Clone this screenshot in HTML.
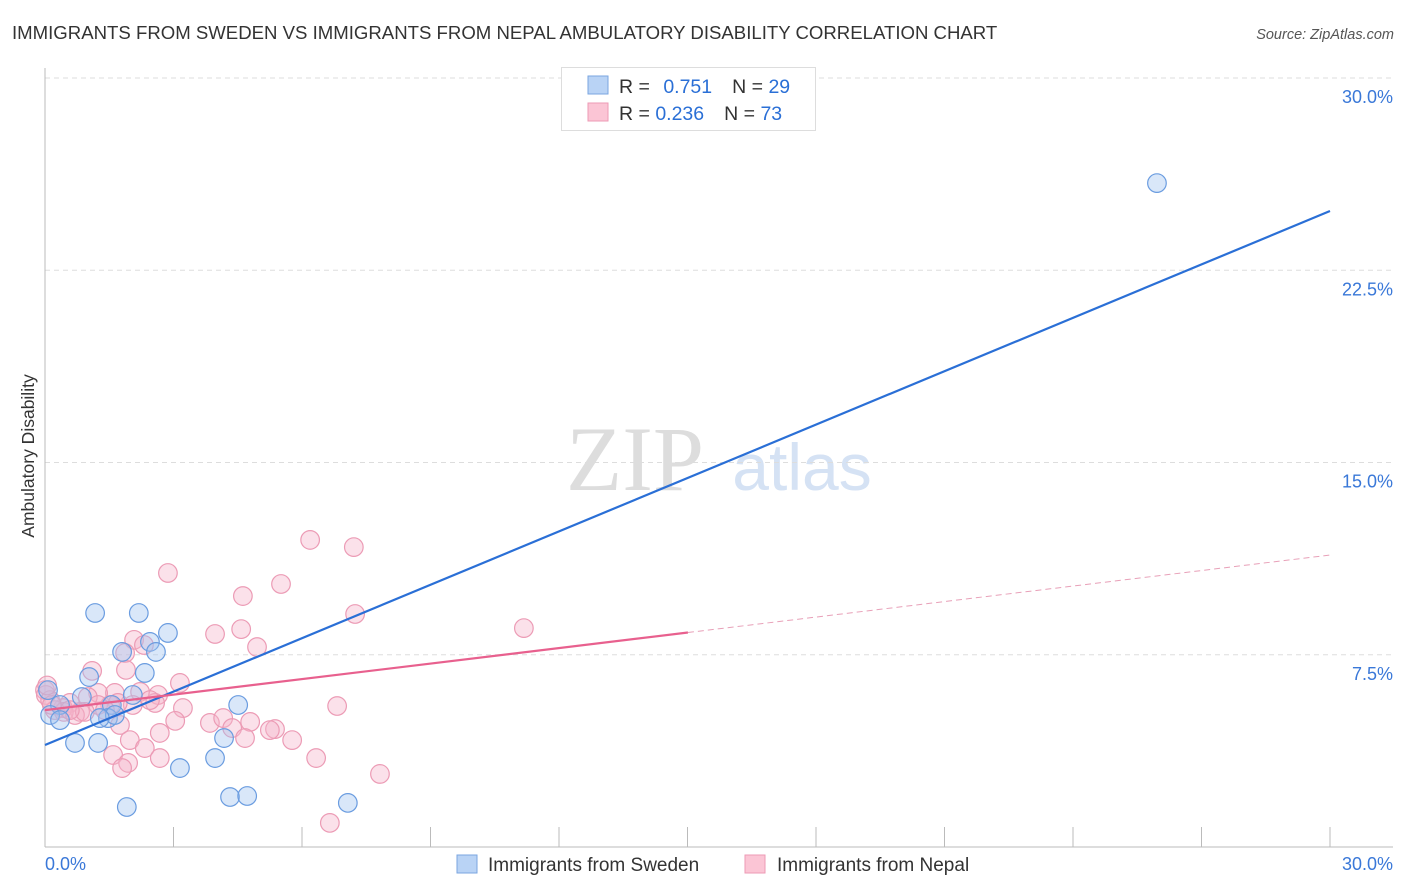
<!DOCTYPE html>
<html><head><meta charset="utf-8"><style>
body{margin:0;background:#fff;font-family:"Liberation Sans",sans-serif;}
svg{display:block}
</style></head><body>
<svg id="chart" width="1406" height="892" xmlns="http://www.w3.org/2000/svg">
<text x="12" y="39" font-size="18.6" fill="#333">IMMIGRANTS FROM SWEDEN VS IMMIGRANTS FROM NEPAL AMBULATORY DISABILITY CORRELATION CHART</text>
<text x="1394" y="39" font-size="14.5" fill="#555" font-style="italic" text-anchor="end">Source: ZipAtlas.com</text>
<text transform="translate(34,456) rotate(-90)" font-size="17.5" fill="#333" text-anchor="middle">Ambulatory Disability</text>
<g>
<text x="635" y="490" font-size="92" font-family="Liberation Serif,serif" fill="#ddd" text-anchor="middle">ZIP</text>
<text x="802" y="490" font-size="66" fill="#d5e2f4" text-anchor="middle">atlas</text>
</g>
<g id="grid"></g>
<g id="axes"></g>
<g id="marks"></g>
<g>
<rect x="561.5" y="67.5" width="254" height="63" fill="#fff" stroke="#ddd"/>
<rect x="588" y="76" width="20" height="18" fill="#b9d3f5" stroke="#7aa6e0"/>
<rect x="588" y="103" width="20" height="18" fill="#fbc5d5" stroke="#ee9ab5"/>
<text x="619" y="93" font-size="19.5" fill="#333">R = <tspan fill="#2a6fd6" dx="8">0.751</tspan><tspan dx="20" fill="#333">N = </tspan><tspan fill="#2a6fd6">29</tspan></text>
<text x="619" y="120" font-size="19.5" fill="#333">R = <tspan fill="#2a6fd6">0.236</tspan><tspan dx="20" fill="#333">N = </tspan><tspan fill="#2a6fd6">73</tspan></text>
</g>
<g>
<rect x="457" y="855" width="20" height="18" fill="#b9d3f5" stroke="#7aa6e0"/>
<text x="488" y="871" font-size="19" fill="#333">Immigrants from Sweden</text>
<rect x="745" y="855" width="20" height="18" fill="#fbc5d5" stroke="#ee9ab5"/>
<text x="777" y="871" font-size="19" fill="#333">Immigrants from Nepal</text>
</g>
</svg>
<script>
const swedenX=[25.96,1.17,2.19,2.87,2.45,2.59,1.80,2.33,1.03,2.05,4.51,0.86,1.56,0.35,0.12,0.35,1.47,1.63,1.28,0.70,1.24,4.18,3.97,3.15,1.91,4.32,4.72,7.07,0.07];
const swedenY=[25.90,9.13,9.13,8.35,8.00,7.61,7.61,6.79,6.63,5.93,5.54,5.85,5.54,5.54,5.15,4.95,5.03,5.15,5.03,4.06,4.06,4.25,3.47,3.08,1.56,1.95,1.99,1.72,6.12];
const nepalX=[6.19,7.21,2.87,5.51,4.62,7.24,11.18,3.97,4.58,2.08,2.31,4.95,1.87,1.10,1.89,3.15,0.00,0.02,2.22,2.64,1.63,1.24,1.00,1.52,2.57,2.05,3.22,1.24,0.58,0.42,0.82,3.04,3.85,4.16,4.79,6.82,5.37,5.25,2.68,1.75,4.37,1.98,4.67,5.77,2.33,1.59,2.68,1.94,1.80,6.33,7.82,6.65,0.12,0.23,0.44,0.70,0.93,1.70,2.45,1.40,0.58,0.16,0.05];
const nepalY=[11.98,11.70,10.69,10.26,9.79,9.09,8.54,8.31,8.50,8.08,7.88,7.80,7.57,6.87,6.91,6.40,6.12,5.93,6.05,5.93,6.01,6.01,5.85,5.54,5.62,5.54,5.42,5.54,5.62,5.42,5.27,4.92,4.84,5.03,4.88,5.50,4.60,4.56,4.45,4.76,4.64,4.17,4.25,4.17,3.86,3.59,3.47,3.28,3.08,3.47,2.85,0.94,5.73,5.34,5.27,5.15,5.27,5.62,5.73,5.34,5.34,5.54,6.30];
const swedenTrend=[3.98,24.81];
const nepalTrend=[5.34,11.39];
const nepalSolidEnd=15.01;
const yTicks=[7.5,15,22.5,30];
const yTickLabels=["7.5%","15.0%","22.5%","30.0%"];
const xTicks=[0,3,6,9,12,15,18,21,24,27,30];

const NS="http://www.w3.org/2000/svg";
const X0=45,X1=1330,Y0=847,Y1=78;
const sx=v=>X0+(v/30)*(X1-X0);
const sy=v=>Y0-(v/30)*(Y0-Y1);
function mk(tag,attrs,parent){const e=document.createElementNS(NS,tag);for(const k in attrs)e.setAttribute(k,attrs[k]);parent.appendChild(e);return e;}
const grid=document.getElementById('grid'),axes=document.getElementById('axes'),marks=document.getElementById('marks');
yTicks.forEach((t,i)=>{
 const l=mk('line',{x1:X0,x2:1393,y1:sy(t),y2:sy(t),stroke:'#ddd','stroke-dasharray':'5,4'},grid);
 
 
 const tx=mk('text',{x:1393,y:sy(t)+25,'font-size':18,fill:'#3a78d8','text-anchor':'end'},grid);
 tx.textContent=yTickLabels[i];
 
 
});
const ya=mk('line',{x1:X0,x2:X0,y1:68,y2:Y0,stroke:'#bbb'},axes);


const xa=mk('line',{x1:X0,x2:1393,y1:Y0,y2:Y0,stroke:'#bbb'},axes);


xTicks.forEach(t=>{
 const l=mk('line',{x1:sx(t),x2:sx(t),y1:827,y2:Y0,stroke:'#bbb'},axes);
 
 
});
const xl0=mk('text',{x:45,y:870,'font-size':18,fill:'#3a78d8'},axes);xl0.textContent='0.0%';


const xl1=mk('text',{x:1393,y:870,'font-size':18,fill:'#3a78d8','text-anchor':'end'},axes);xl1.textContent='30.0%';



nepalX.forEach((x,i)=>{
 const c=mk('circle',{cx:sx(x),cy:sy(nepalY[i]),r:9.3,fill:'rgba(246,180,202,0.4)',stroke:'#ec9bb5','stroke-width':1.2},marks);
 
 
});
swedenX.forEach((x,i)=>{
 const c=mk('circle',{cx:sx(x),cy:sy(swedenY[i]),r:9.3,fill:'rgba(160,195,240,0.4)',stroke:'#6a9ce0','stroke-width':1.2},marks);
 
 
});
const bt=mk('line',{x1:sx(0),y1:sy(swedenTrend[0]),x2:sx(30),y2:sy(swedenTrend[1]),stroke:'#2a6fd6','stroke-width':2.2},marks);


const py=x=>nepalTrend[0]+(nepalTrend[1]-nepalTrend[0])*x/30;
const pt=mk('line',{x1:sx(0),y1:sy(py(0)),x2:sx(nepalSolidEnd),y2:sy(py(nepalSolidEnd)),stroke:'#e8608e','stroke-width':2.2},marks);


const pd=mk('line',{x1:sx(nepalSolidEnd),y1:sy(py(nepalSolidEnd)),x2:sx(30),y2:sy(py(30)),stroke:'#e8a0b8','stroke-width':1,'stroke-dasharray':'6,4'},marks);


</script>
</body></html>
